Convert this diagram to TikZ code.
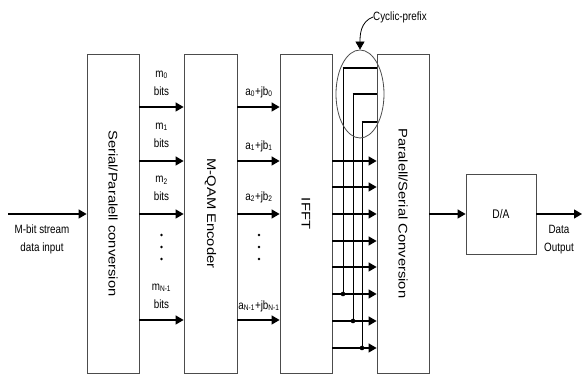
\documentclass[tikz,border=0pt]{standalone}
\usepackage{fontspec}
\setmainfont{Liberation Sans}
\newfontfamily\blockfont[FakeStretch=1.18]{Liberation Sans}
\newfontfamily\labelfont[FakeStretch=0.82]{Liberation Sans}
\usetikzlibrary{arrows.meta,positioning,shapes.geometric}

\begin{document}
\begin{tikzpicture}[
    x=1pt,y=1pt,
    block/.style={draw=black!70,line width=0.8pt,inner sep=0pt,
      minimum width=52pt,minimum height=319pt},
    blocktext/.style={rotate=-90,font=\blockfont\fontsize{12.5}{14}\selectfont},
    lbl/.style={align=center,inner sep=0pt,font=\labelfont\fontsize{12}{18}\selectfont},
    arrow/.style={-{Triangle[length=8pt,width=9pt]},draw=black,line width=1.3pt},
    wire/.style={draw=black,line width=1.3pt}
  ]
    \useasboundingbox (0,0) rectangle (582,377);
    % blocks
    \node[block] (sp) at (113,163.5) {};
    \node[block,minimum width=53pt] (qam) at (210.5,163.5) {};
    \node[block] (ifft) at (306,163.5) {};
    \node[block] (ps) at (403,163.5) {};
    \node[block,minimum width=70pt,minimum height=80pt,
      font=\labelfont\fontsize{12.5}{14}\selectfont] (da) at (501,163) {D/A};
    \node[blocktext] (sptext) at (sp.center) {Serial/Paralell conversion};
    \node[blocktext] (qamtext) at (qam.center) {M-QAM Encoder};
    \node[blocktext] (iffttext) at (ifft.center) {IFFT};
    \node[blocktext] (pstext) at (ps.center) {Paralell/Serial Conversion};
    % input and output
    \coordinate (in) at (8,163);
    \coordinate (out) at (582,163);
    \draw[arrow] (in) -- (in -| sp.west);
    \node[lbl] (inlbl) at (42,138) {M-bit stream\\data input};
    \draw[arrow] (ps.east |- da.west) -- (da.west);
    \draw[arrow] (da.east) -- (out);
    \node[lbl] (outlbl) at (559,137) {Data\\Output};
    % bit streams
    \foreach \y in {270,216,163,57}
      \draw[arrow] (sp.east |- 0,\y) -- (qam.west |- 0,\y);
    \node[lbl] (m0) at (161.5,294) {m\textsubscript{0}\\bits};
    \node[lbl] (m1) at (161.5,242) {m\textsubscript{1}\\bits};
    \node[lbl] (m2) at (161.5,188.5) {m\textsubscript{2}\\bits};
    \node[lbl] (mn) at (161.5,81) {m\textsubscript{N-1}\\bits};
    % symbols
    \foreach \y in {270,216,163,57}
      \draw[arrow] (qam.east |- 0,\y) -- (ifft.west |- 0,\y);
    \node[lbl] (s0) at (259,285) {a\textsubscript{0}+jb\textsubscript{0}};
    \node[lbl] (s1) at (259,231) {a\textsubscript{1}+jb\textsubscript{1}};
    \node[lbl] (s2) at (259,180) {a\textsubscript{2}+jb\textsubscript{2}};
    \node[lbl] (sn) at (259,71) {a\textsubscript{N-1}+jb\textsubscript{N-1}};
    \foreach \x in {161.5,259}
      \foreach \y in {142,130,118}
        \fill (\x,\y) circle (1.3pt);
    % IFFT outputs
    \foreach \y in {216,190,163,136,110,83,56,29}
      \draw[arrow] (ifft.east |- 0,\y) -- (ps.west |- 0,\y);
    % cyclic prefix
    \foreach \cx/\ya/\yb in {343/309/83,353/283/56,362/255/29}{
      \draw[line width=1pt] (\cx,\ya) -- (\cx,\yb);
      \draw[wire] (\cx-0.5,\ya) -- (ps.west |- 0,\ya);
      \fill (\cx,\yb) circle (2.3pt);
    }
    \node[draw=black!70,line width=0.8pt,ellipse,inner sep=0pt,
      minimum width=48pt,minimum height=88pt] (cpring) at (360,283) {};
    \node[lbl,anchor=west] (cplbl) at (373,360) {Cyclic-prefix};
    \draw[arrow,line width=0.8pt] (cplbl.west) to[out=200,in=90] (cpring.north);
  \end{tikzpicture}
\end{document}
